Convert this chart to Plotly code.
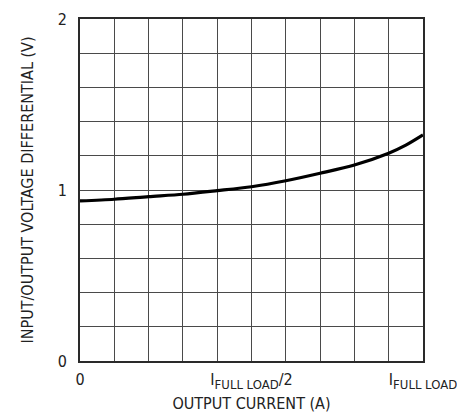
import plotly.graph_objects as go

# Output current as fraction of full load
current_frac = [0.0, 0.1, 0.2, 0.3, 0.4, 0.5, 0.6, 0.7, 0.8, 0.9, 0.95, 1.0]
# Input/output voltage differential (V)
v_diff = [0.936, 0.946, 0.961, 0.975, 0.996, 1.019, 1.054, 1.098, 1.146, 1.215, 1.262, 1.322]

x_tickvals = [0, 0.5, 1]
x_ticktext = ["0",
              "I<sub><span style='font-size:13px'>FULL LOAD</span></sub>/2",
              "I<sub><span style='font-size:13px'>FULL LOAD</span></sub>"]
y_tickvals = [0, 1, 2]
y_ticktext = ["0", "1", "2"]

FONT = "DejaVu Sans Condensed, Liberation Sans Narrow, Liberation Sans, sans-serif"

fig = go.Figure()
fig.add_trace(go.Scatter(
    x=current_frac, y=v_diff, mode="lines",
    line=dict(color="black", width=3.2, shape="spline", smoothing=0.8),
    hoverinfo="skip", showlegend=False,
))

grid_color = "#4a4a4a"
fig.update_xaxes(
    range=[0, 1], tickmode="array", tickvals=x_tickvals, ticktext=x_ticktext,
    showgrid=True, gridcolor=grid_color, gridwidth=1.1,
    minor=dict(tickmode="linear", tick0=0, dtick=0.1, showgrid=True,
               gridcolor=grid_color, gridwidth=1.1),
    showline=True, linecolor="#2a2a2a", linewidth=2, mirror=True,
    zeroline=False, ticks="", ticklabelstandoff=3,
    tickfont=dict(family=FONT, size=16, color="#222"),
    title=dict(text="OUTPUT CURRENT (A)", font=dict(family=FONT, size=16, color="#222"), standoff=7),
)
fig.update_yaxes(
    range=[0, 2], tickmode="array", tickvals=y_tickvals, ticktext=y_ticktext,
    showgrid=True, gridcolor=grid_color, gridwidth=1.1,
    minor=dict(tickmode="linear", tick0=0, dtick=0.2, showgrid=True,
               gridcolor=grid_color, gridwidth=1.1),
    showline=True, linecolor="#2a2a2a", linewidth=2, mirror=True,
    zeroline=False, ticks="", ticklabelstandoff=8,
    tickfont=dict(family=FONT, size=16, color="#222"),
    title=dict(text="INPUT/OUTPUT VOLTAGE DIFFERENTIAL (V)", font=dict(family=FONT, size=16, color="#222"), standoff=20),
)
fig.update_layout(
    width=457, height=408,
    margin=dict(l=72, r=42, t=11, b=55, autoexpand=False),
    plot_bgcolor="white", paper_bgcolor="white",
    font=dict(family=FONT, color="#222"),
)
fig.write_html("out.html")
